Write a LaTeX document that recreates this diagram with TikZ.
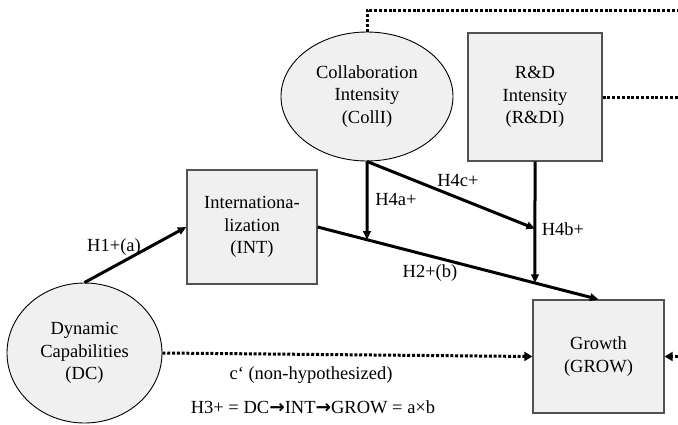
\documentclass[tikz,border=0pt]{standalone}
\usepackage{fontspec}
\setmainfont{Liberation Serif}
\newfontfamily\arrowfont{DejaVu Sans}
\usetikzlibrary{shapes.geometric,arrows.meta,calc}
\begin{document}
\begin{tikzpicture}[x=1pt,y=-1pt,
  every node/.style={font=\fontsize{18.5}{22.5}\selectfont, align=center, inner sep=0pt},
  boxnode/.style={draw=black!68, line width=1.3pt, fill=black!6, rectangle},
  ovalnode/.style={draw=black, line width=0.9pt, fill=black!6, ellipse},
  solidarrow/.style={line width=3pt, -{Triangle[length=8.5pt,width=7.5pt]}},
  dotline/.style={line width=3pt, dash pattern=on 3pt off 1.8pt},
  dotarrow/.style={dotline, -{Triangle[length=8pt,width=9pt]}}]
\useasboundingbox (0,0) rectangle (678,424);

% nodes
\node[ovalnode, minimum width=172pt, minimum height=129pt] (colli) at (367,96.5)
  {Collaboration\\Intensity\\(CollI)};
\node[boxnode, minimum width=134pt, minimum height=128pt] (rd) at (535,97)
  {R\&D\\Intensity\\(R\&DI)};
\node[boxnode, minimum width=130pt, minimum height=114pt] (int) at (252,227)
  {Internationa-\\lization\\(INT)};
\node[ovalnode, minimum width=155pt, minimum height=140pt] (dc) at (84.5,353)
  {Dynamic\\Capabilities\\(DC)};
\node[boxnode, minimum width=131pt, minimum height=113pt] (grow) at (598.5,356.5)
  {Growth\\(GROW)};

% helper coordinates
\coordinate (m1) at (intersection of int.east--grow.north and colli.south--colli.center);
\coordinate (m2) at (intersection of int.east--grow.north and rd.south--rd.center);
\coordinate (m3) at ($(rd.south)+(0,67)$);
\coordinate (topend) at (678,10);
\coordinate (rdend) at (678,97);
\coordinate (rightend) at (678,356.5);

% solid connectors
\draw[solidarrow] (dc.north) -- (int.west);
\draw[solidarrow] (int.east) -- (grow.north);
\draw[solidarrow] (colli.south) -- (m1);
\draw[solidarrow] (colli.south) -- (m3);
\draw[solidarrow] (rd.south) -- (m2);

% dotted connectors
\draw[dotline] (colli.north) |- (topend);
\draw[dotline] (rd.east) -- (rdend);
\draw[dotarrow] (dc.east) -- (grow.west);
\draw[dotarrow] (rightend) -- (grow.east);

% labels
\node (l1) at (114,247) {H1+(a)};
\node (l2) at (430,273) {H2+(b)};
\node (l4a) at (396,199) {H4a+};
\node (l4c) at (458,180) {H4c+};
\node (l4b) at (563,229) {H4b+};
\node (lc) at (311,375) {c‘ (non-hypothesized)};
\node (lh3) at (313,407) {H3+ = DC{\arrowfont\bfseries →}INT{\arrowfont\bfseries →}GROW = a×b};
\end{tikzpicture}
\end{document}
